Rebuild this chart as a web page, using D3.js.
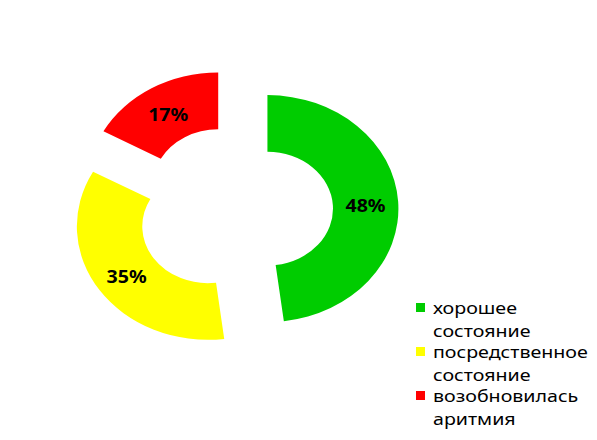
<!DOCTYPE html>
<html>
<head>
<meta charset="utf-8">
<script src="https://cdn.jsdelivr.net/npm/d3@7"></script>
<style>
  body { margin: 0; background: #fff; }
  svg { font-family: "Noto Sans", "Open Sans", sans-serif; }
</style>
</head>
<body>
<div id="chart"></div>
<script>
const categories = ['хорошее состояние', 'посредственное состояние', 'возобновилась аритмия'];
const values = [48, 35, 17];
const colors = ['#00CC00', '#FFFF00', '#FF0000'];
// legend labels wrap onto two lines
const legendLines = [['хорошее', 'состояние'], ['посредственное', 'состояние'], ['возобновилась', 'аритмия']];

const width = 597;
const height = 440;
const sx = 1.154; // the picture is stretched horizontally

const svg = d3.select('#chart')
  .append('svg')
  .attr('width', width)
  .attr('height', height);

const root = svg.append('g').attr('transform', `scale(${sx}, 1)`);

const cx = 203.5, cy = 210.4;
const outerR = 113.5, innerR = 56.8;
const explode = 28.3;

const pie = d3.pie().sort(null).value((d) => d);
const arc = d3.arc().innerRadius(innerR).outerRadius(outerR);

const slices = root.append('g')
  .attr('transform', `translate(${cx}, ${cy})`)
  .selectAll('g')
  .data(pie(values))
  .enter()
  .append('g')
  .attr('transform', (d) => {
    const a = (d.startAngle + d.endAngle) / 2;
    return `translate(${explode * Math.sin(a)}, ${-explode * Math.cos(a)})`;
  });

slices.append('path')
  .attr('d', arc)
  .style('fill', (d, i) => colors[i]);

slices.append('text')
  .attr('text-anchor', 'middle')
  .attr('dy', '0.5em')
  .attr('transform', (d) => `translate(${arc.centroid(d)})`)
  .style('font-size', '17px')
  .style('font-weight', 'bold')
  .style('fill', '#000')
  .text((d) => `${d.data}%`);

// legend
const legend = root.append('g').attr('transform', `translate(${416 / sx}, 303)`);
const item = legend.selectAll('g')
  .data(categories)
  .enter()
  .append('g')
  .attr('transform', (d, i) => `translate(0, ${i * 44})`);

item.append('rect')
  .attr('width', 9 / sx)
  .attr('height', 9)
  .style('fill', (d, i) => colors[i]);

item.each(function (d, i) {
  d3.select(this).selectAll('text')
    .data(legendLines[i])
    .enter()
    .append('text')
    .attr('x', (433 - 416) / sx)
    .attr('y', (t, j) => 5 + j * 23)
    .attr('dy', '0.36em')
    .style('font-size', '17px')
    .style('fill', '#000')
    .text((t) => t);
});
</script>
</body>
</html>
